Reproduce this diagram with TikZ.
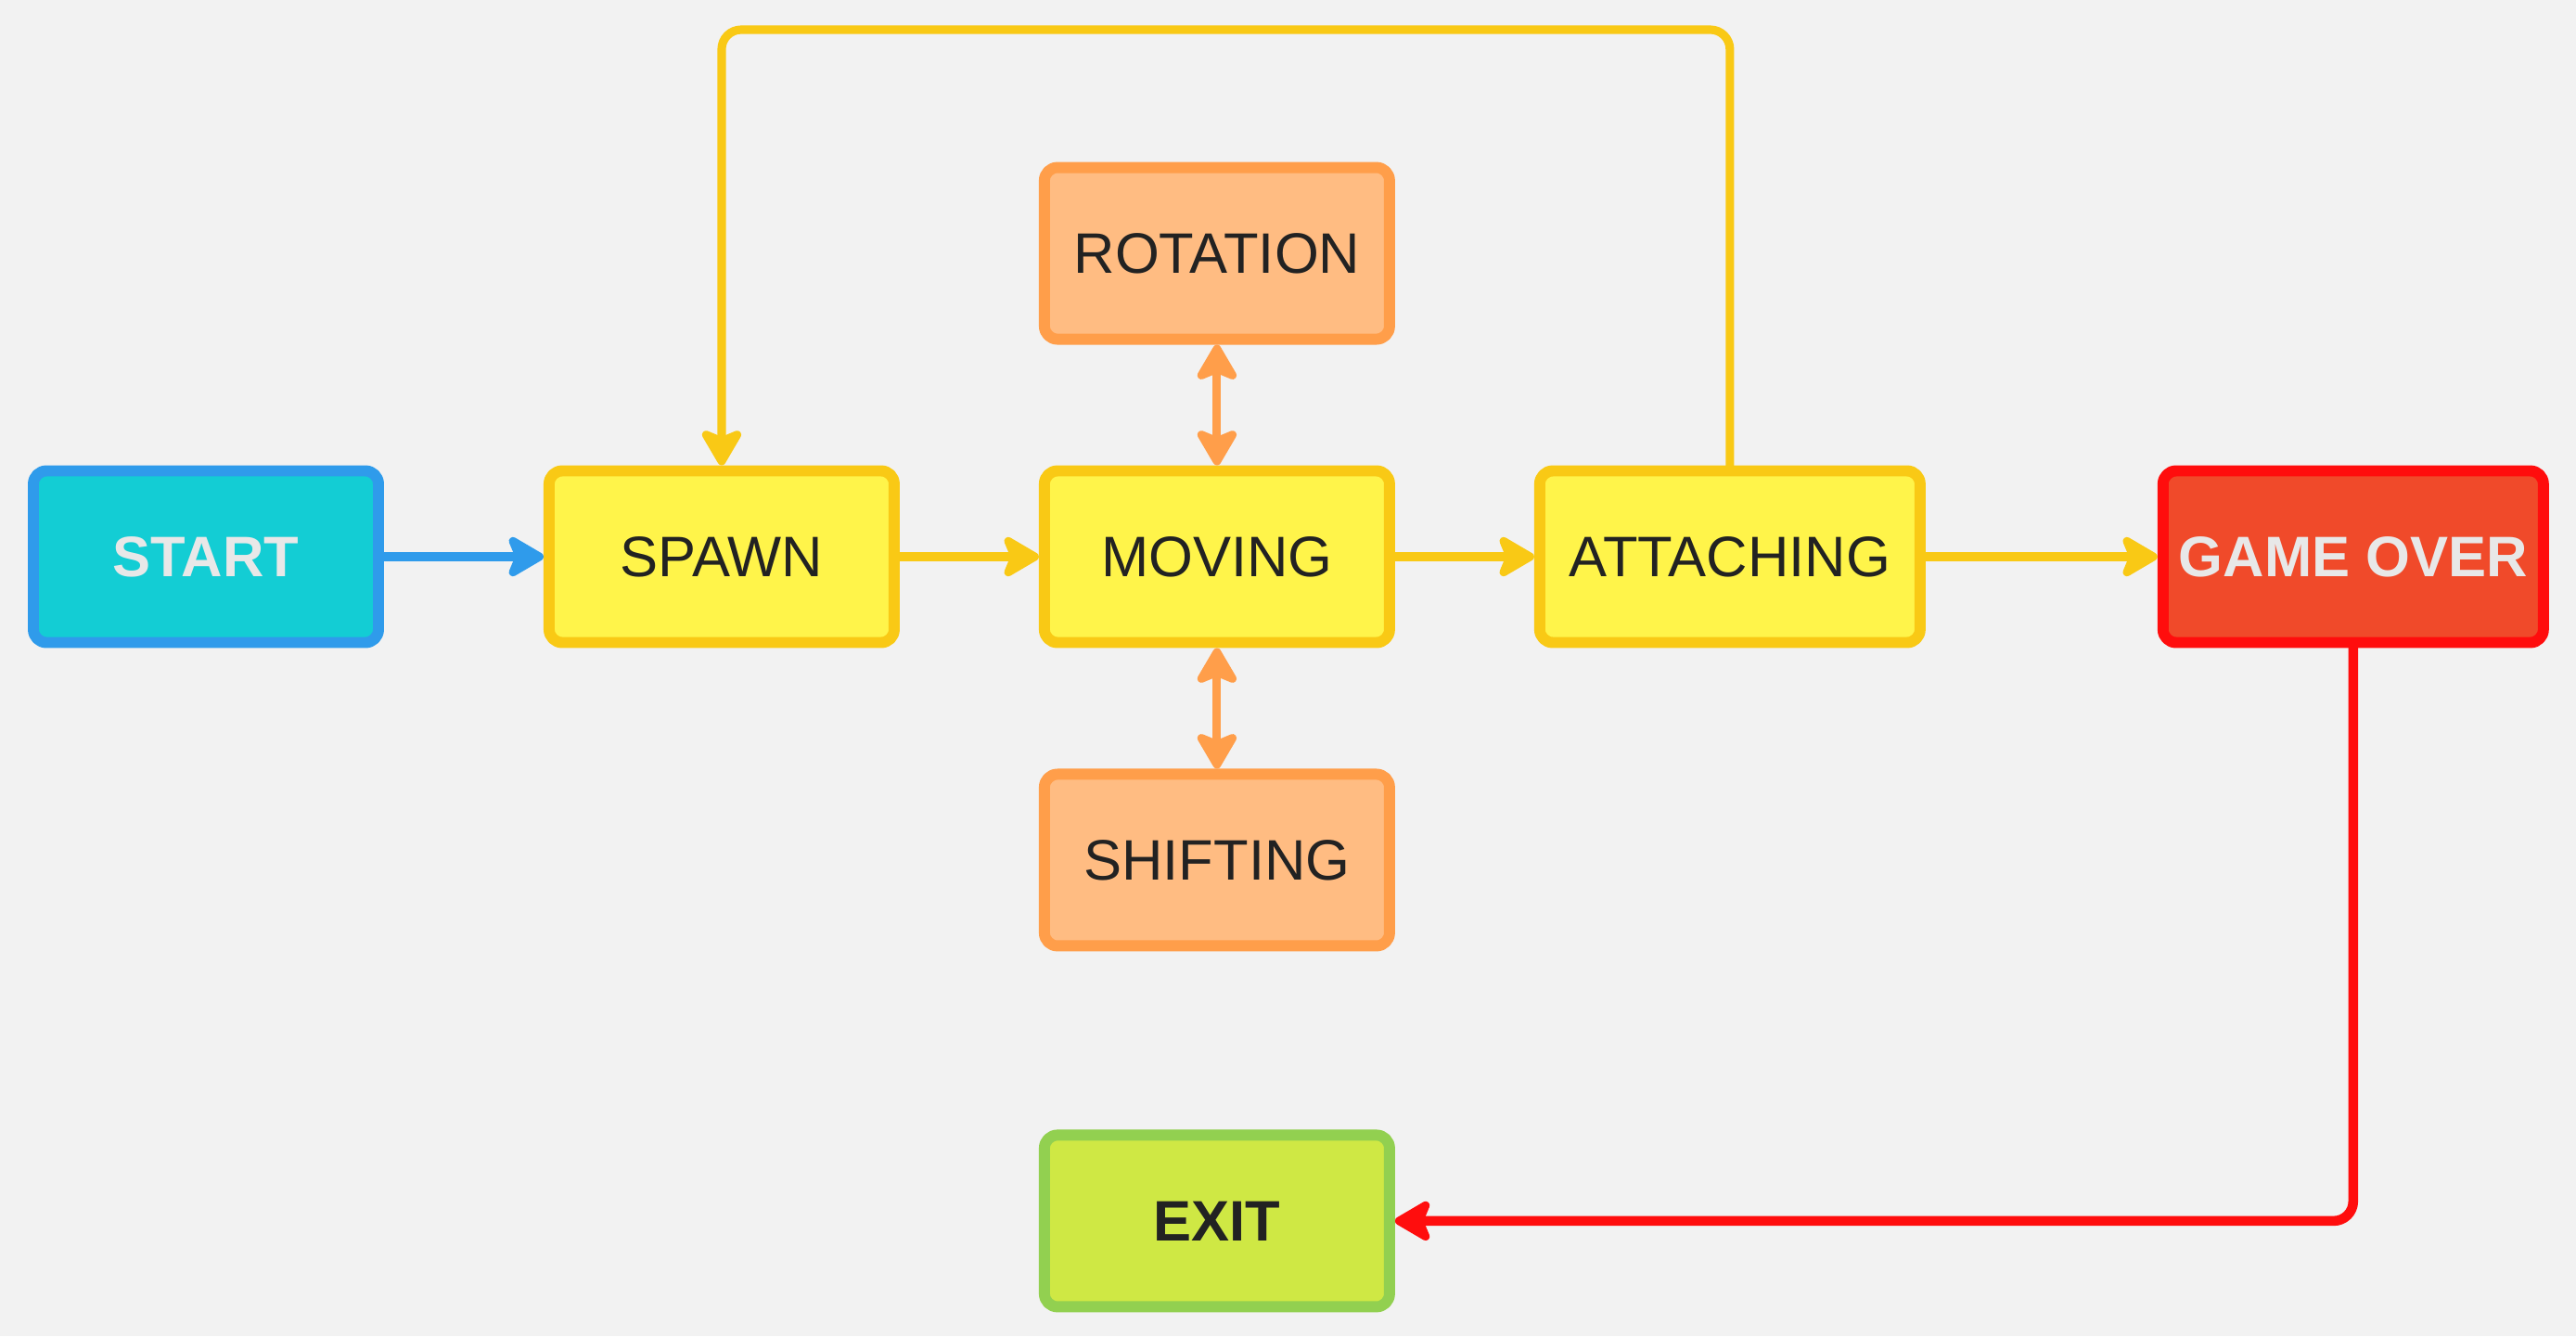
\documentclass[tikz,border=0pt]{standalone}
\usepackage{fontspec}
\setmainfont{Liberation Sans}
\usetikzlibrary{positioning,arrows.meta}

\definecolor{bg}{HTML}{F2F2F2}
\definecolor{cyanfill}{HTML}{13CDD4}
\definecolor{blueline}{HTML}{2F9BEB}
\definecolor{yellowfill}{HTML}{FFF44A}
\definecolor{yellowline}{HTML}{F9C915}
\definecolor{orangefill}{HTML}{FFBC82}
\definecolor{orangeline}{HTML}{FF9E4A}
\definecolor{redfill}{HTML}{F04A2A}
\definecolor{redline}{HTML}{FF0D0D}
\definecolor{greenfill}{HTML}{CFE844}
\definecolor{greenline}{HTML}{92D050}
\definecolor{lighttext}{HTML}{E8E8E8}
\definecolor{darktext}{HTML}{222222}

\begin{document}
\begin{tikzpicture}[line cap=round, line join=round, node distance=1.5cm,
    >={Stealth[length=13pt, width=15pt, inset=3pt, round]},
    box/.style={draw, line width=3.4pt, rounded corners=4pt, minimum width=3.72cm,
      minimum height=1.85cm, text=darktext, font=\fontsize{17.5}{20}\selectfont},
    wide/.style={box, minimum width=4.1cm},
    state/.style={box, fill=yellowfill, draw=yellowline},
    side/.style={box, fill=orangefill, draw=orangeline},
    link/.style={->, line width=2.6pt}]

  \useasboundingbox[fill=bg] (0,0) rectangle (27.77,-14.40);

  \node[box, fill=cyanfill, draw=blueline, text=lighttext, font=\fontsize{17.5}{20}\selectfont\bfseries] (start) at (2.22,-6.00) {START};
  \node[state] (spawn) [right=1.72cm of start] {SPAWN};
  \node[state] (moving) [right=of spawn] {MOVING};
  \node[state, wide] (attach) [right=of moving] {ATTACHING};
  \node[wide, fill=redfill, draw=redline, text=lighttext, font=\fontsize{17.5}{20}\selectfont\bfseries] (over) [right=2.5cm of attach] {GAME OVER};
  \node[side] (rotation) [above=1.3cm of moving] {ROTATION};
  \node[side] (shifting) [below=1.3cm of moving] {SHIFTING};
  \node[box, fill=greenfill, draw=greenline, font=\fontsize{17.5}{20}\selectfont\bfseries] (exit) [below=1.92cm of shifting] {EXIT};

  \coordinate (looptop) at (0,-0.32);

  \draw[link, blueline] (start) -- (spawn);
  \draw[link, yellowline] (spawn) -- (moving);
  \draw[link, yellowline] (moving) -- (attach);
  \draw[link, yellowline] (attach) -- (over);
  \draw[link, yellowline, rounded corners=6pt] (attach.north) -- (attach.north |- looptop)
    -- (spawn.north |- looptop) -- (spawn.north);
  \draw[link, <->, orangeline] (rotation) -- (moving);
  \draw[link, <->, orangeline] (moving) -- (shifting);
  \draw[link, redline, line width=3pt, rounded corners=6pt] (over.south) |- (exit.east);
\end{tikzpicture}
\end{document}
